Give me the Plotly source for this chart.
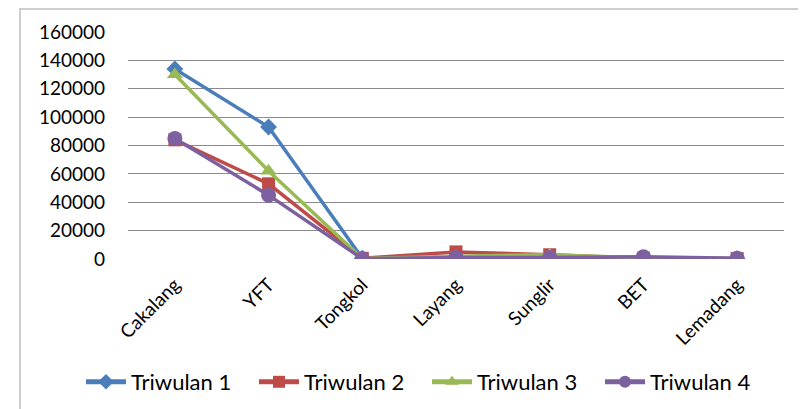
import plotly.graph_objects as go

categories = ["Cakalang", "YFT", "Tongkol", "Layang", "Sunglir", "BET", "Lemadang"]
tri1 = [134000, 93000, 500, 1000, 1000, 500, 200]
tri2 = [84000, 53000, 500, 5000, 3000, 500, 300]
tri3 = [130000, 62000, 300, 2000, 3000, 800, 300]
tri4 = [85000, 45000, 200, 1000, 1000, 1500, 500]
series_names = ["Triwulan 1", "Triwulan 2", "Triwulan 3", "Triwulan 4"]
tick_vals = [0, 20000, 40000, 60000, 80000, 100000, 120000, 140000, 160000]

colors = ["#4A7EBB", "#BE4B48", "#98B954", "#7D60A0"]
symbols = ["diamond", "square", "triangle-up", "circle"]
sizes = [13, 13, 14, 15]

fig = go.Figure()
for name, vals, c, s, sz in zip(series_names, [tri1, tri2, tri3, tri4], colors, symbols, sizes):
    fig.add_trace(go.Scatter(
        x=categories, y=vals, name=name, mode="lines+markers",
        line=dict(color=c, width=3.5),
        marker=dict(symbol=s, size=sz, color=c),
    ))

W, H = 806, 409
OFF = 7  # page offset compensation
L, R, T, B = 127 - OFF, 23 + OFF, 31 - OFF, 151 + OFF
pw, ph = W - L - R, H - T - B

def px(x):
    return (x - OFF - L) / pw

def py(y):
    return (H - B - (y - OFF)) / ph

fig.update_layout(
    width=W, height=H,
    margin=dict(l=L, r=R, t=T, b=B, autoexpand=False),
    paper_bgcolor="white", plot_bgcolor="white",
    font=dict(family="Lato, Open Sans, sans-serif", size=19, color="#000000"),
    showlegend=True,
    legend=dict(orientation="h", x=px(80), xanchor="left", y=py(381), yanchor="middle",
                font=dict(size=22), itemwidth=40, entrywidth=118, entrywidthmode="pixels",
                tracegroupgap=0, itemsizing="constant"),
    xaxis=dict(range=[-0.5, 6.5], showgrid=False, showline=False, ticks="",
               tickangle=-45, tickfont=dict(size=19), ticklabelstandoff=10),
    yaxis=dict(range=[0, 160000], tickvals=tick_vals, ticktext=[str(v) for v in tick_vals],
               showgrid=True, gridcolor="#8C8C8C", gridwidth=1, zeroline=False,
               showline=False, ticks="", tickfont=dict(size=19), ticklabelstandoff=22),
    shapes=[dict(type="rect", xref="paper", yref="paper",
                 x0=px(19), x1=px(830), y0=py(420), y1=py(8),
                 line=dict(color="#BFBFBF", width=1.5), fillcolor="rgba(0,0,0,0)",
                 layer="below")],
)

fig.write_html("out.html")
